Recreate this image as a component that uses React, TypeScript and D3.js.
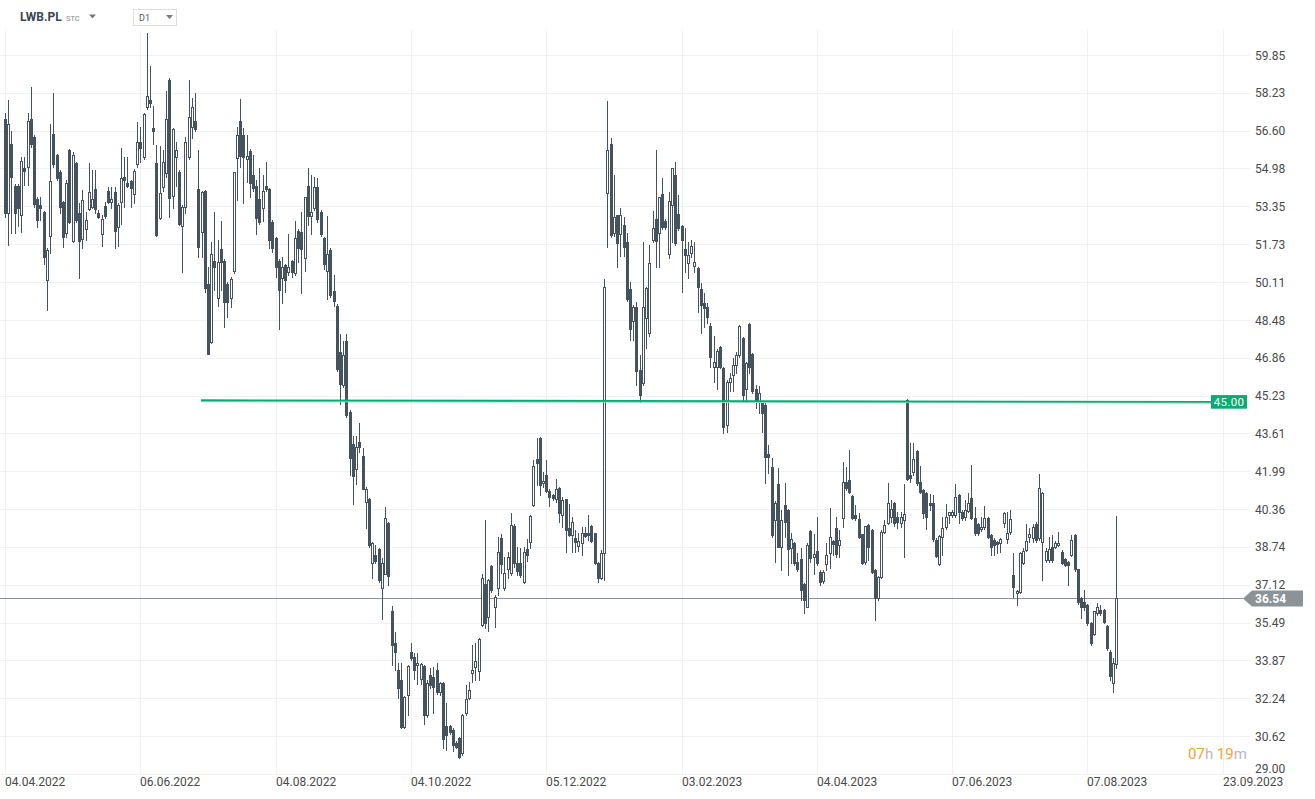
import React from "react";
import * as d3 from "d3";

// ---- data (LWB.PL, D1) ----
const OPEN: number[] = [
  57.10, 53.05, 56.03, 54.22, 54.22, 52.98, 55.01, 55.05, 57.10, 56.34,
  53.65, 53.41, 53.11, 50.19, 52.08, 56.44, 55.56, 54.84, 53.52, 52.19,
  55.77, 51.86, 55.20, 53.05, 51.96, 52.36, 53.22, 53.34, 54.08, 53.05,
  52.15, 53.37, 54.01, 53.55, 53.98, 52.45, 53.55, 54.60, 54.37, 54.44,
  53.88, 55.15, 56.13, 55.48, 57.60, 57.92, 56.73, 55.20, 52.84, 54.20,
  54.77, 58.77, 53.81, 55.46, 54.82, 52.52, 53.34, 55.48, 56.74, 57.01,
  54.08, 52.24, 54.01, 50.02, 47.54, 51.02, 49.44, 51.52, 51.00, 50.02,
  49.44, 50.58, 55.44, 57.01, 56.41, 55.38, 55.73, 54.70, 54.22, 53.67,
  53.27, 54.22, 54.09, 52.69, 51.98, 51.00, 50.26, 50.83, 50.55, 51.00,
  50.48, 52.29, 52.24, 51.13, 54.23, 52.96, 53.28, 54.20, 53.12, 52.01,
  50.58, 51.50, 49.70, 49.07, 47.08, 45.69, 47.56, 44.54, 43.15, 42.08,
  43.24, 42.64, 40.65, 40.81, 38.06, 38.38, 38.64, 36.95, 37.59, 39.78,
  36.00, 34.62, 33.43, 33.02, 30.99, 32.38, 34.24, 34.02, 33.67, 33.05,
  33.62, 31.51, 33.24, 33.17, 33.45, 32.52, 32.91, 31.05, 31.05, 30.88,
  30.31, 30.52, 29.90, 31.59, 32.24, 33.34, 33.57, 33.42, 35.38, 37.14,
  35.74, 37.91, 36.14, 36.96, 39.10, 36.96, 37.77, 37.60, 39.63, 38.03,
  38.03, 37.24, 38.63, 38.96, 40.53, 42.51, 43.39, 41.46, 41.82, 41.15,
  40.96, 40.78, 41.25, 40.10, 40.78, 39.53, 39.25, 39.10, 38.77, 38.92,
  39.32, 39.32, 39.63, 39.32, 38.06, 37.38, 38.46, 53.94, 56.03, 52.22,
  52.98, 52.16, 52.55, 51.83, 49.79, 48.44, 49.02, 46.33, 45.75, 48.54,
  47.93, 51.93, 52.79, 52.22, 53.88, 52.74, 51.29, 53.41, 54.70, 53.02,
  52.51, 51.51, 50.93, 51.33, 50.79, 50.69, 49.79, 49.19, 49.02, 48.22,
  46.47, 46.44, 47.33, 46.40, 43.97, 45.83, 46.11, 46.54, 46.97, 47.69,
  45.50, 48.30, 47.01, 45.50, 44.97, 44.97, 44.83, 42.72, 42.18, 39.89,
  41.43, 38.74, 40.53, 40.32, 38.67, 38.89, 38.10, 38.20, 37.14, 36.17,
  39.42, 38.29, 38.57, 37.67, 37.29, 38.00, 38.46, 39.00, 39.53, 38.82,
  39.96, 41.53, 41.61, 40.92, 40.10, 39.92, 39.29, 38.10, 39.67, 39.46,
  37.74, 36.53, 37.46, 39.39, 39.75, 40.03, 40.60, 40.03, 39.75, 39.89,
  45.04, 41.82, 41.96, 42.85, 41.53, 41.18, 41.06, 40.60, 40.60, 39.03,
  37.99, 39.17, 39.58, 40.10, 40.10, 40.10, 40.96, 40.25, 40.03, 40.29,
  40.82, 39.96, 39.70, 39.49, 39.58, 39.96, 39.25, 39.03, 38.96, 38.92,
  39.75, 39.06, 39.39, 37.53, 36.74, 36.81, 38.06, 38.60, 39.17, 39.10,
  39.72, 39.10, 38.96, 38.17, 38.17, 38.74, 38.74, 38.82, 38.53, 38.20,
  38.10, 38.39, 39.25, 37.77, 36.53, 36.39, 36.24, 35.48, 34.99, 35.88,
  36.03, 36.03, 35.34, 34.24, 32.88, 33.71,
];

const HIGH: number[] = [
  57.35, 57.90, 56.60, 54.30, 54.30, 55.48, 55.48, 57.34, 58.46, 56.40,
  53.77, 53.77, 53.15, 51.55, 56.90, 58.20, 55.60, 54.90, 53.60, 54.48,
  55.80, 55.70, 55.25, 53.48, 54.05, 53.12, 55.20, 54.91, 54.91, 53.18,
  52.98, 53.55, 54.20, 54.20, 54.20, 53.50, 55.84, 55.48, 55.48, 54.50,
  54.95, 56.98, 56.77, 57.35, 60.78, 59.37, 57.66, 55.98, 55.94, 55.77,
  58.32, 58.86, 56.70, 56.13, 54.90, 53.40, 56.31, 58.77, 57.99, 58.23,
  55.77, 54.00, 54.05, 50.76, 51.83, 53.12, 51.91, 52.72, 51.10, 50.10,
  50.30, 54.81, 56.77, 57.96, 56.73, 56.41, 55.80, 55.55, 54.48, 54.98,
  54.70, 55.24, 54.15, 52.75, 52.05, 51.10, 51.19, 50.90, 52.15, 51.05,
  52.72, 52.40, 53.12, 53.75, 55.02, 54.71, 54.63, 54.58, 53.20, 52.05,
  52.96, 51.55, 50.42, 49.15, 47.88, 47.56, 47.88, 44.60, 43.51, 43.51,
  44.07, 42.96, 41.30, 40.85, 38.95, 38.83, 38.70, 38.27, 40.45, 39.80,
  36.21, 35.10, 33.75, 33.74, 32.35, 33.66, 34.60, 34.17, 34.17, 33.77,
  33.67, 33.02, 33.55, 33.59, 33.77, 32.95, 32.95, 32.02, 31.10, 30.95,
  30.40, 30.59, 31.55, 32.81, 32.95, 34.52, 34.60, 34.81, 37.56, 39.89,
  37.35, 37.96, 36.67, 39.17, 39.30, 38.30, 38.53, 40.17, 39.70, 38.72,
  38.67, 38.72, 39.06, 40.10, 42.46, 43.39, 43.45, 41.96, 42.46, 41.20,
  41.00, 41.63, 41.30, 40.86, 40.80, 40.58, 40.03, 39.46, 39.32, 39.60,
  39.57, 40.10, 39.67, 39.35, 38.10, 38.60, 50.22, 57.89, 56.27, 54.70,
  53.00, 53.27, 52.91, 52.19, 50.12, 49.10, 49.26, 46.97, 51.83, 49.90,
  51.69, 53.17, 55.77, 53.77, 54.55, 52.80, 53.98, 54.98, 55.27, 53.84,
  52.55, 52.41, 51.83, 51.91, 51.83, 50.75, 50.05, 49.62, 49.19, 48.36,
  47.79, 47.21, 47.36, 46.45, 45.90, 46.21, 46.83, 47.11, 48.26, 47.76,
  46.68, 48.35, 47.05, 45.68, 45.64, 45.00, 44.90, 43.11, 42.54, 40.70,
  42.11, 40.32, 41.46, 40.35, 39.32, 38.95, 38.46, 38.67, 37.20, 38.89,
  39.45, 39.29, 40.03, 37.74, 37.74, 38.89, 40.39, 39.05, 40.03, 39.46,
  42.39, 42.18, 42.89, 40.95, 40.53, 40.17, 39.30, 39.65, 39.70, 39.50,
  37.80, 37.50, 39.45, 39.89, 41.46, 40.75, 40.65, 40.25, 40.25, 41.43,
  45.07, 43.18, 43.18, 42.90, 42.21, 41.20, 41.10, 41.00, 40.96, 39.10,
  39.25, 40.03, 40.58, 40.25, 40.30, 41.43, 41.00, 40.30, 40.75, 41.03,
  42.25, 40.46, 39.75, 40.03, 40.49, 40.00, 39.30, 39.10, 39.00, 39.10,
  40.25, 40.25, 40.30, 38.46, 36.90, 38.53, 38.67, 39.72, 39.53, 39.72,
  39.82, 41.85, 41.10, 38.70, 39.17, 39.25, 39.00, 39.39, 38.60, 38.25,
  38.15, 39.25, 39.30, 37.80, 36.60, 36.89, 36.30, 35.50, 36.00, 36.34,
  36.24, 36.06, 35.40, 34.30, 33.95, 40.06,
];

const LOW: number[] = [
  52.90, 51.69, 52.19, 52.20, 52.50, 52.26, 54.27, 54.27, 55.90, 53.34,
  52.48, 52.76, 50.90, 48.90, 51.33, 55.05, 54.48, 53.05, 51.62, 52.05,
  52.62, 51.83, 52.70, 50.26, 51.55, 51.93, 53.18, 53.28, 53.05, 52.85,
  51.65, 52.85, 53.48, 53.30, 51.58, 51.65, 52.59, 53.34, 54.20, 53.34,
  53.48, 55.05, 55.27, 55.40, 57.55, 57.60, 56.03, 52.10, 52.80, 54.02,
  54.62, 52.88, 53.27, 54.22, 52.55, 50.55, 53.05, 55.40, 56.27, 56.60,
  51.16, 51.20, 49.69, 47.00, 47.50, 49.76, 49.09, 49.76, 48.19, 48.59,
  49.05, 50.50, 53.62, 55.05, 53.48, 54.41, 53.77, 54.00, 52.15, 52.60,
  52.72, 54.00, 51.55, 51.40, 50.33, 48.11, 49.19, 49.69, 50.40, 50.30,
  50.40, 50.98, 49.62, 50.58, 52.56, 52.17, 53.20, 52.70, 52.08, 50.66,
  49.39, 49.47, 49.07, 46.30, 44.86, 45.62, 44.30, 41.84, 40.57, 41.45,
  42.80, 41.20, 39.54, 38.75, 37.40, 38.03, 37.24, 35.65, 37.56, 37.08,
  33.67, 33.43, 32.24, 30.95, 30.95, 31.52, 33.88, 33.05, 32.85, 32.85,
  31.13, 31.45, 32.70, 31.62, 32.40, 32.38, 30.09, 30.02, 30.70, 29.99,
  30.09, 29.66, 29.80, 31.50, 32.20, 32.95, 33.02, 33.02, 35.34, 35.24,
  35.14, 36.81, 35.31, 36.67, 37.60, 36.90, 37.38, 37.53, 37.89, 37.53,
  37.46, 37.20, 38.14, 38.67, 40.49, 41.39, 40.96, 41.32, 41.10, 40.49,
  40.75, 40.68, 39.82, 39.60, 38.53, 39.20, 38.53, 38.53, 38.57, 38.39,
  39.15, 39.03, 38.95, 38.00, 37.24, 37.34, 37.30, 51.62, 52.05, 52.08,
  50.73, 51.22, 51.22, 49.30, 47.61, 47.61, 45.68, 44.97, 45.68, 47.26,
  47.79, 51.83, 50.73, 50.73, 52.40, 52.40, 51.12, 51.83, 51.70, 52.34,
  49.69, 50.55, 50.26, 51.19, 50.55, 48.83, 47.90, 48.19, 48.33, 46.44,
  45.83, 45.50, 46.40, 43.61, 43.68, 45.44, 45.44, 46.18, 46.90, 44.97,
  45.04, 46.21, 45.35, 44.68, 44.50, 43.68, 41.46, 41.89, 39.17, 38.10,
  38.71, 37.74, 39.17, 37.53, 38.03, 37.96, 37.70, 36.46, 35.88, 36.14,
  38.10, 37.57, 37.96, 37.10, 37.20, 37.74, 37.81, 38.39, 38.32, 38.32,
  39.60, 41.18, 41.05, 39.92, 39.90, 39.10, 38.00, 38.00, 38.17, 37.60,
  35.60, 36.46, 37.39, 39.32, 39.70, 39.82, 39.63, 39.53, 39.60, 38.32,
  41.60, 41.53, 41.82, 41.40, 41.03, 39.96, 39.49, 40.32, 39.00, 38.30,
  37.96, 38.39, 39.49, 39.75, 40.03, 40.03, 39.75, 39.89, 39.89, 40.25,
  39.92, 39.25, 39.25, 39.40, 39.50, 39.10, 38.39, 38.39, 38.46, 38.53,
  39.60, 38.89, 39.30, 36.60, 36.24, 36.74, 38.00, 38.55, 38.96, 38.96,
  38.96, 39.03, 37.31, 38.10, 38.10, 38.10, 38.70, 38.78, 38.00, 37.90,
  37.10, 38.35, 37.70, 36.30, 35.67, 36.03, 35.38, 34.53, 34.95, 35.80,
  35.80, 35.48, 34.30, 33.02, 32.52, 33.52,
];

const CLOSE: number[] = [
  53.05, 56.90, 54.62, 53.05, 53.27, 55.28, 54.88, 57.00, 56.03, 53.45,
  52.76, 53.27, 51.19, 51.48, 54.44, 55.17, 54.55, 53.34, 52.02, 54.37,
  52.69, 55.57, 52.76, 51.88, 53.62, 52.76, 53.98, 53.65, 53.22, 52.91,
  52.81, 52.93, 53.55, 53.68, 52.31, 53.41, 54.55, 54.48, 54.24, 54.15,
  54.88, 56.10, 55.84, 57.30, 58.09, 57.80, 56.60, 52.12, 53.94, 55.24,
  57.09, 53.72, 56.66, 55.77, 52.59, 53.31, 56.13, 57.20, 57.60, 56.66,
  51.62, 53.95, 49.86, 47.00, 51.29, 50.76, 50.98, 50.95, 49.23, 49.26,
  50.22, 54.81, 56.41, 55.53, 55.48, 55.51, 54.34, 54.12, 52.84, 52.69,
  54.01, 54.09, 51.91, 51.55, 50.76, 49.76, 50.76, 50.19, 50.76, 50.55,
  51.98, 51.58, 51.53, 53.75, 52.96, 53.12, 54.20, 52.80, 52.17, 50.89,
  51.29, 49.55, 49.31, 46.37, 45.73, 46.97, 44.38, 42.56, 41.76, 43.03,
  43.03, 41.24, 41.24, 38.83, 38.91, 38.11, 37.32, 38.06, 39.97, 37.48,
  34.51, 34.22, 32.66, 31.02, 32.31, 33.62, 33.95, 33.45, 33.77, 33.71,
  31.51, 32.88, 32.81, 32.74, 32.49, 32.88, 30.48, 30.66, 30.80, 30.23,
  30.16, 29.73, 31.51, 32.21, 32.59, 33.45, 33.84, 34.77, 37.39, 35.48,
  37.31, 36.88, 36.60, 38.53, 38.00, 37.60, 38.29, 39.66, 38.03, 37.70,
  37.53, 38.50, 38.39, 40.07, 42.21, 42.35, 41.39, 41.56, 41.15, 40.89,
  40.82, 41.21, 40.20, 40.75, 39.46, 39.25, 39.82, 38.96, 39.00, 39.35,
  39.20, 39.25, 39.00, 38.06, 37.38, 38.46, 49.90, 55.77, 52.12, 52.88,
  51.79, 52.98, 51.59, 49.36, 48.11, 49.02, 46.30, 45.25, 49.02, 49.83,
  50.93, 52.41, 51.88, 53.74, 52.45, 52.48, 53.58, 54.98, 51.79, 52.41,
  51.93, 51.26, 51.26, 51.65, 50.98, 49.90, 49.12, 48.97, 48.62, 46.87,
  46.68, 47.14, 46.44, 43.87, 45.83, 45.97, 46.54, 46.97, 48.22, 45.25,
  46.64, 46.44, 45.44, 45.04, 45.35, 44.50, 42.61, 42.58, 39.25, 40.63,
  38.74, 39.89, 39.82, 38.63, 39.06, 38.03, 37.77, 36.88, 36.46, 38.82,
  38.24, 38.43, 38.03, 37.24, 37.67, 38.39, 39.17, 38.86, 38.43, 39.03,
  41.53, 41.25, 41.10, 39.96, 39.96, 39.17, 38.06, 39.63, 38.75, 37.67,
  36.53, 37.46, 39.39, 39.67, 40.63, 40.35, 39.75, 39.82, 40.03, 40.15,
  41.63, 41.68, 42.49, 41.49, 41.10, 40.18, 40.03, 40.53, 39.06, 38.36,
  39.22, 39.56, 40.00, 40.22, 40.22, 40.89, 40.25, 39.96, 40.32, 40.60,
  39.96, 39.32, 39.32, 39.58, 39.96, 39.17, 38.75, 38.82, 38.86, 39.06,
  40.17, 39.35, 39.92, 37.03, 36.86, 38.49, 38.57, 39.00, 39.29, 39.60,
  39.03, 41.25, 41.06, 38.57, 38.63, 38.17, 38.92, 38.92, 38.06, 37.96,
  37.96, 39.03, 37.77, 36.39, 36.14, 36.14, 35.46, 34.60, 35.98, 36.17,
  35.88, 35.53, 34.38, 33.20, 33.74, 36.54,
];

const PRICE_TICKS: number[] = [
  59.85, 58.23, 56.6, 54.98, 53.35, 51.73, 50.11, 48.48, 46.86, 45.23,
  43.61, 41.99, 40.36, 38.74, 37.12, 35.49, 33.87, 32.24, 30.62, 29.0,
];
const DATE_LABELS: string[] = [
  "04.04.2022", "06.06.2022", "04.08.2022", "04.10.2022", "05.12.2022",
  "03.02.2023", "04.04.2023", "07.06.2023", "07.08.2023", "23.09.2023",
];
const DATE_BAR_INDEX: number[] = [0, 42, 84, 126, 168, 210, 252, 294, 336, 378];

const SYMBOL = "LWB.PL";
const SYMBOL_TYPE = "STC";
const INTERVAL = "D1";
const LEVEL_LINE = { startBar: 60.85, startValue: 45.03, endValue: 44.96, label: "45.00" };
const LAST_PRICE = 36.54;
const TIMER = [
  { t: "07", accent: true },
  { t: "h ", accent: false },
  { t: "19", accent: true },
  { t: "m", accent: false },
];

const CANDLE = "#44535e";
const GRID = "#f1f1f1";
const AXIS_TEXT = "#4a4a4a";
const GREEN = "#0aab72";
const GRAY_LABEL = "#8a9397";
const ORANGE = "#f7a233";
const FONT = "Roboto, 'Noto Sans', sans-serif";

export default function App() {
  const W = 1315;
  const H = 799;
  const x = d3.scaleLinear().domain([0, 378]).range([5, 1222.7]);
  const y = d3.scaleLinear().domain([29, 59.85]).range([773.7, 55]);
  const plotBottom = y(29);
  const gridRight = 1250;

  const candles = OPEN.map((o, i) => {
    const c = CLOSE[i];
    const hi = Math.max(HIGH[i], o, c);
    const lo = Math.min(LOW[i], o, c);
    const px = Math.round(x(i));
    const bull = c >= o;
    const yTop = Math.round(y(Math.max(o, c)));
    const yBot = Math.round(y(Math.min(o, c)));
    const yHi = Math.round(y(hi));
    const yLo = Math.round(y(lo));
    return (
      <g key={i}>
        <line x1={px + 0.5} x2={px + 0.5} y1={yHi} y2={yLo + 1} stroke={CANDLE} strokeWidth={1} />
        {bull ? (
          <rect
            x={px - 0.5}
            y={yTop + 0.5}
            width={2}
            height={Math.max(yBot - yTop, 1)}
            fill="#ffffff"
            stroke={CANDLE}
            strokeWidth={1}
          />
        ) : (
          <rect x={px - 1} y={yTop} width={3} height={Math.max(yBot - yTop + 1, 1)} fill={CANDLE} />
        )}
      </g>
    );
  });

  const lvlX1 = x(LEVEL_LINE.startBar);
  const lvlX2 = 1211;
  const lvlY1 = y(LEVEL_LINE.startValue);
  const lvlY2 = y(LEVEL_LINE.endValue);
  const lastY = Math.round(y(LAST_PRICE)) + 0.5;

  return (
    <svg
      width={W}
      height={H}
      viewBox={`0 0 ${W} ${H}`}
      style={{ position: "fixed", left: 0, top: 0, background: "#ffffff" }}
      fontFamily={FONT}
    >
      <rect x={0} y={0} width={W} height={H} fill="#ffffff" />
      {/* horizontal grid */}
      {PRICE_TICKS.map((v) => (
        <line key={"hg" + v} x1={0} x2={gridRight} y1={Math.round(y(v)) + 0.5} y2={Math.round(y(v)) + 0.5} stroke={GRID} strokeWidth={1} />
      ))}
      {/* vertical grid */}
      {DATE_BAR_INDEX.map((b) => (
        <line key={"vg" + b} x1={Math.round(x(b)) + 0.5} x2={Math.round(x(b)) + 0.5} y1={30} y2={plotBottom} stroke={GRID} strokeWidth={1} />
      ))}
      {/* last price line */}
      <line x1={0} x2={1243} y1={lastY} y2={lastY} stroke={GRAY_LABEL} strokeWidth={1} />
      {/* candles */}
      {candles}
      {/* level line */}
      <line x1={lvlX1} x2={lvlX2} y1={lvlY1 + 1.2} y2={lvlY2 + 1.2} stroke="#8fdcbf" strokeWidth={1.2} />
      <line x1={lvlX1} x2={lvlX2} y1={lvlY1} y2={lvlY2} stroke={GREEN} strokeWidth={1.8} />
      <rect x={1211} y={lvlY2 - 6.8} width={36} height={13.6} fill={GREEN} />
      <text x={1229} y={lvlY2 + 1} fill="#ffffff" fontSize={11.5} textAnchor="middle" dominantBaseline="middle" letterSpacing={0.3}>
        {LEVEL_LINE.label}
      </text>
      {/* y axis labels */}
      {PRICE_TICKS.map((v) => (
        <text key={"yl" + v} x={1255} y={Math.min(y(v), 768) + 1.5} fill={AXIS_TEXT} fontSize={12} dominantBaseline="middle">
          {v.toFixed(2)}
        </text>
      ))}
      {/* last price label */}
      <path
        d={`M1243,${lastY} L1252,${lastY - 8} L1303,${lastY - 8} L1303,${lastY + 8} L1252,${lastY + 8} Z`}
        fill={GRAY_LABEL}
      />
      <text x={1255} y={lastY + 1} fill="#ffffff" fontSize={12} fontWeight="bold" dominantBaseline="middle">
        {LAST_PRICE.toFixed(2)}
      </text>
      {/* x axis labels */}
      {DATE_LABELS.map((d, k) => (
        <text key={d} x={Math.round(x(DATE_BAR_INDEX[k]))} y={786} fill={AXIS_TEXT} fontSize={12}>
          {d}
        </text>
      ))}
      {/* timer */}
      <text x={1188} y={759} fontSize={15}>
        {TIMER.map((p, k) => (
          <tspan key={k} fill={p.accent ? ORANGE : "#b8b8b8"}>{p.t}</tspan>
        ))}
      </text>
      {/* header */}
      <text x={20} y={21} fill="#3b4650" fontSize={12} fontWeight="bold">{SYMBOL}</text>
      <text x={66} y={21} fill="#8a8a8a" fontSize={7.5}>{SYMBOL_TYPE}</text>
      <path d="M89,14.5 L96,14.5 L92.5,18.5 Z" fill="#7a7a7a" />
      <rect x={133.5} y={9.5} width={43} height={16} fill="#ffffff" stroke="#dddddd" strokeWidth={1} />
      <text x={139} y={21} fill="#555555" fontSize={9}>{INTERVAL}</text>
      <path d="M166,15 L173,15 L169.5,19 Z" fill="#7a7a7a" />
    </svg>
  );
}
